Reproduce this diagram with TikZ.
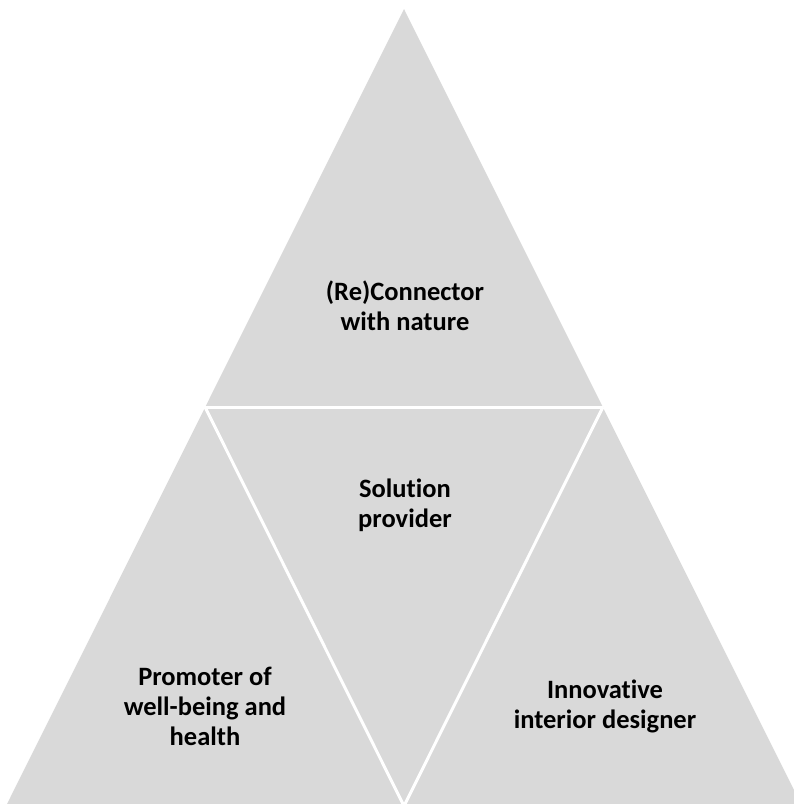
\documentclass[tikz,border=0pt]{standalone}
\usepackage{fontspec}
\setmainfont{Carlito}[Ligatures=NoCommon]
\definecolor{tribg}{HTML}{D9D9D9}

\begin{document}
\begin{tikzpicture}[x=1pt,y=-1pt,
    label text/.style={font=\bfseries\fontsize{26.5}{30}\selectfont, align=center, text=black},
    gap line/.style={white, line width=3pt}]
        \useasboundingbox (0,0) rectangle (794,804);
        \clip (0,0) rectangle (794,804);
        % corners of the big triangle
        \coordinate (apex) at (404,9);
        \coordinate (bl) at (6,806);
        \coordinate (br) at (802,806);
        % midpoints of its sides
        \coordinate (ml) at (205,407);
        \coordinate (mr) at (603,407);
        \coordinate (mb) at (404,806);
        \fill[tribg] (apex) -- (bl) -- (br) -- cycle;
        \draw[gap line] (ml) -- (mr);
        \draw[gap line] (ml) -- (mb) -- (mr);
        \node[label text] (nature) at (405,306) {(Re)Connector\\with nature};
        \node[label text] (solution) at (405,505) {Solution\\provider};
        \node[label text] (health) at (205,706) {Promoter of\\well-being and\\health};
        \node[label text] (designer) at (605,706) {Innovative\\interior designer};
    \end{tikzpicture}
\end{document}
